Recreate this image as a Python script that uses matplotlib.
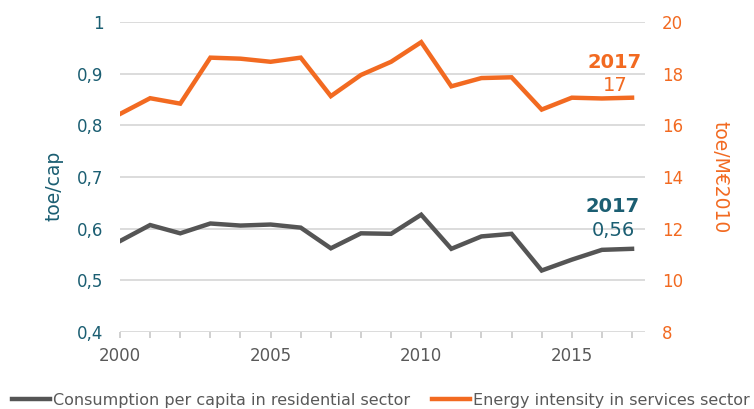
import matplotlib
matplotlib.use("Agg")
import matplotlib.pyplot as plt
from matplotlib.ticker import FixedLocator

years = list(range(2000, 2018))
residential = [0.576, 0.607, 0.591, 0.610, 0.606, 0.608, 0.602, 0.562, 0.591,
               0.590, 0.627, 0.561, 0.585, 0.590, 0.519, 0.540, 0.559, 0.561]
services = [16.44, 17.05, 16.84, 18.62, 18.58, 18.46, 18.62, 17.13, 17.95,
            18.46, 19.22, 17.51, 17.83, 17.86, 16.61, 17.07, 17.04, 17.07]
left_ticks = [0.4, 0.5, 0.6, 0.7, 0.8, 0.9, 1.0]
left_labels = ["0,4", "0,5", "0,6", "0,7", "0,8", "0,9", "1"]
right_ticks = [8, 10, 12, 14, 16, 18, 20]
x_ticks = [2000, 2005, 2010, 2015]
series_names = ["Consumption per capita in residential sector",
                "Energy intensity in services sector"]

TEAL = "#1B5E72"
ORANGE = "#F26A21"
GRAY = "#555555"
GRID = "#D9D9D9"
TXT = "#595959"

plt.rcParams['font.family'] = ['DejaVu Sans']

fig = plt.figure(figsize=(7.54, 4.09), dpi=100)
ax = fig.add_axes([120/754, 1-332/409, 525/754, 310/409])
ax2 = ax.twinx()

l1, = ax.plot(years, residential, color=GRAY, lw=3.2, solid_joinstyle='miter', zorder=3)
l2, = ax2.plot(years, services, color=ORANGE, lw=3.2, solid_joinstyle='miter', zorder=3)

ax.set_xlim(2000, 2017.43)
ax.set_ylim(0.4, 1.0)
ax2.set_ylim(8, 20)

ax.set_yticks(left_ticks)
ax.set_yticklabels(left_labels)
ax2.set_yticks(right_ticks)
ax.set_xticks(x_ticks)
ax.xaxis.set_minor_locator(FixedLocator(years))

ax.grid(axis='y', color=GRID, lw=1.3)
ax.set_axisbelow(True)
for a in (ax, ax2):
    for s in a.spines.values():
        s.set_visible(False)

ax.tick_params(axis='y', length=0, pad=12, labelsize=12, labelcolor=TEAL)
ax2.tick_params(axis='y', length=0, pad=12, labelsize=12, labelcolor=ORANGE)
ax.tick_params(axis='x', which='both', length=4, width=1.2, color="#C8C8C8",
               labelsize=12, labelcolor=TXT, pad=7)

ax.set_ylabel("toe/cap", color=TEAL, fontsize=13.5)
ax.yaxis.set_label_coords(-0.107, 0.47)
ax2.set_ylabel("toe/M€2010", color=ORANGE, fontsize=13.5, rotation=270, va='center')
ax2.yaxis.set_label_coords(1.143, 0.5)

ax2.text(2017.33, 18.45, "2017", color=ORANGE, fontsize=14, fontweight='bold',
         ha='right', va='center')
ax2.text(2016.84, 17.56, "17", color=ORANGE, fontsize=14, ha='right', va='center')
ax.text(2017.24, 0.642, "2017", color=TEAL, fontsize=14, fontweight='bold',
        ha='right', va='center')
ax.text(2017.1, 0.597, "0,56", color=TEAL, fontsize=14, ha='right', va='center')

fig.legend([l1, l2], series_names, loc='center', bbox_to_anchor=(0.505, 0.022),
           ncol=2, frameon=False, fontsize=11.5, labelcolor=TXT,
           handlelength=2.4, handletextpad=0.15, columnspacing=1.4,
           borderaxespad=0, borderpad=0)

fig.savefig("out.png", dpi=100)
